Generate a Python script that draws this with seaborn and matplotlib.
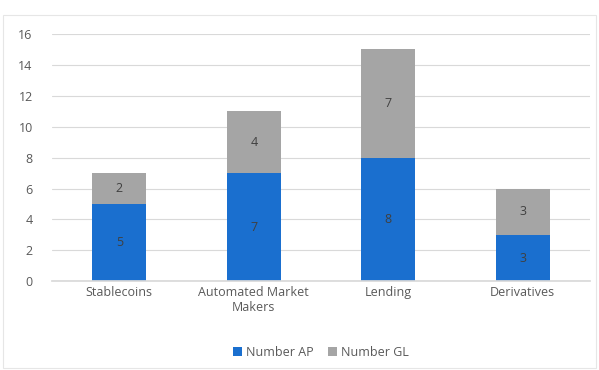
import matplotlib
matplotlib.use("Agg")
import matplotlib.pyplot as plt
import seaborn as sns
import pandas as pd
import numpy as np

categories = ["Stablecoins", "Automated Market\nMakers", "Lending", "Derivatives"]
number_ap = [5, 7, 8, 3]
number_gl = [2, 4, 7, 3]
yticks = [0, 2, 4, 6, 8, 10, 12, 14, 16]

sns.set_theme(style="white")
plt.rcParams['font.family'] = ['Open Sans', 'DejaVu Sans']

blue = "#1a6fcf"
gray = "#a5a5a5"
txt = "#595959"

df = pd.DataFrame({"cat": categories, "ap": number_ap, "gl": number_gl})
df["total"] = df["ap"] + df["gl"]

fig = plt.figure(figsize=(5.99, 3.70), dpi=100)
ax = fig.add_axes([0.087, 0.24, 0.898, 0.668])

sns.barplot(data=df, x="cat", y="total", color=gray, width=0.4, ax=ax, saturation=1,
            label="Number GL", linewidth=0)
sns.barplot(data=df, x="cat", y="ap", color=blue, width=0.4, ax=ax, saturation=1,
            label="Number AP", linewidth=0)

for i, (a, g) in enumerate(zip(number_ap, number_gl)):
    ax.text(i, a / 2, str(a), ha="center", va="center", fontsize=9, color="#404040")
    ax.text(i, a + g / 2, str(g), ha="center", va="center", fontsize=9, color="#404040")

ax.set_ylim(0, 16)
ax.set_yticks(yticks)
ax.set_xlim(-0.5, 3.5)
ax.yaxis.grid(True, color="#d9d9d9", linewidth=0.8)
ax.set_axisbelow(True)
for s in ["top", "right", "left"]:
    ax.spines[s].set_visible(False)
ax.spines["bottom"].set_color("#d9d9d9")
ax.tick_params(axis="both", labelsize=9, colors=txt, length=0)
ax.tick_params(axis="y", pad=14)
ax.set_xlabel("")
ax.set_ylabel("")

handles, labels = ax.get_legend_handles_labels()
order = [labels.index("Number AP"), labels.index("Number GL")]
ax.legend([handles[k] for k in order], [labels[k] for k in order],
          loc="upper center", bbox_to_anchor=(0.5, -0.215), ncol=2, frameon=False,
          fontsize=9, labelcolor=txt, handlelength=0.7, handleheight=0.7,
          handletextpad=0.3, columnspacing=1.2)

fig.patches.append(plt.Rectangle((0.005, 0.005), 0.99, 0.955, transform=fig.transFigure,
                                 fill=False, edgecolor="#e6e6e6", linewidth=0.8))

fig.savefig("out.png", dpi=100)
